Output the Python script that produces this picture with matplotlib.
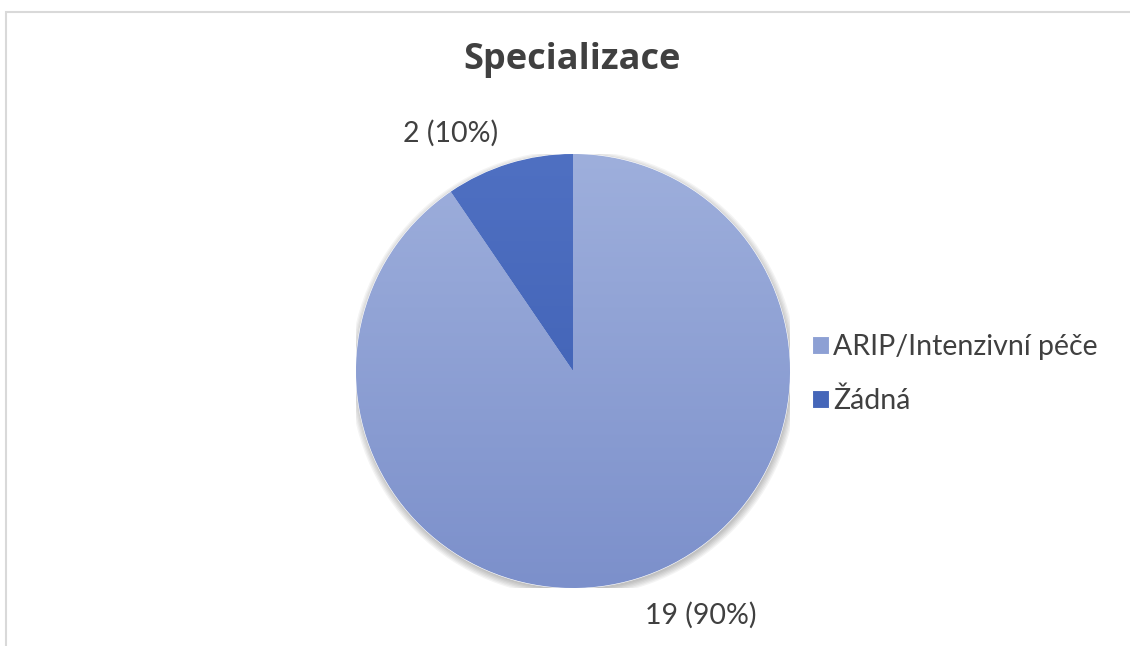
import numpy as np
import matplotlib
matplotlib.use('Agg')
import matplotlib.pyplot as plt
from matplotlib.patches import Rectangle, Circle
from matplotlib.colors import LinearSegmentedColormap

plt.rcParams['font.family'] = ['Lato', 'DejaVu Sans']

# data
categories = ['ARIP/Intenzivní péče', 'Žádná']
counts = [19, 2]
title = 'Specializace'
colors_top = ['#9eafdc', '#4f70c2']
colors_bot = ['#7c90cb', '#3b5cb0']
colors_mid = ['#8da0d4', '#4566b9']

total = sum(counts)
labels = ['%d (%d%%)' % (c, round(100 * c / total)) for c in counts]

fig = plt.figure(figsize=(11.3, 6.46), dpi=100)
fig.patch.set_facecolor('white')

# light chart frame
fig.add_artist(Rectangle((6 / 1130, -0.1), 1.2, 1 - 12 / 646 + 0.1,
                         transform=fig.transFigure, fill=False,
                         edgecolor='#d9d9d9', linewidth=1.5))

ax = fig.add_axes([(573 - 217) / 1130, (646 - 588) / 646, 434 / 1130, 434 / 646])

# soft shadow under the pie
for k in range(6):
    ax.add_patch(Circle((0.004, -0.012), 1.0 + 0.006 * k, facecolor='black',
                        edgecolor='none', alpha=0.045, zorder=0))

wedges, _ = ax.pie(counts, startangle=90, counterclock=False, radius=1,
                   colors=colors_mid,
                   wedgeprops=dict(linewidth=0.8, edgecolor='white'))
ax.set_xlim(-1, 1)
ax.set_ylim(-1, 1)
ax.set_aspect('equal')
ax.axis('off')

# vertical gradient fill like the office chart
for w, ct, cb in zip(wedges, colors_top, colors_bot):
    cmap = LinearSegmentedColormap.from_list('g', [cb, ct])
    grad = np.linspace(0, 1, 256).reshape(-1, 1)
    im = ax.imshow(grad, extent=[-1, 1, -1, 1], origin='lower', cmap=cmap,
                   aspect='auto', zorder=w.get_zorder() + 0.1)
    im.set_clip_path(w)

# data labels (outside end)
label_pos = [(0.59, -1.125), (-0.565, 1.095)]
for lab, (x, y) in zip(labels, label_pos):
    ax.text(x, y, lab, ha='center', va='center', fontsize=20.5, color='#404040',
            clip_on=False)

fig.text(572 / 1130, 1 - 60 / 646, title, ha='center', va='center',
         fontsize=26, fontweight='bold', color='#404040',
         family=['Open Sans', 'DejaVu Sans'])

leg = fig.legend(wedges, categories, loc='center left',
                 bbox_to_anchor=(812 / 1130, 1 - 374 / 646), frameon=False,
                 fontsize=20.5, handlelength=0.6, handleheight=0.6,
                 handletextpad=0.15, labelspacing=0.95, borderpad=0,
                 borderaxespad=0)
for t in leg.get_texts():
    t.set_color('#404040')

fig.savefig('out.png', dpi=100, facecolor='white')
